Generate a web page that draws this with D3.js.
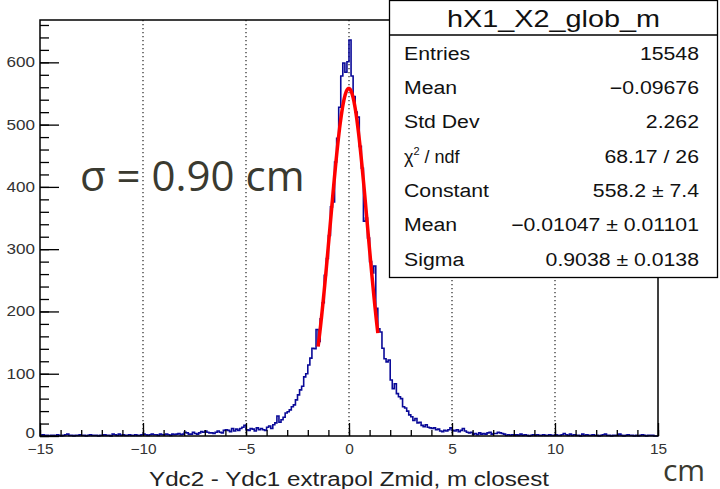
<!DOCTYPE html>
<html>
<head>
<meta charset="utf-8">
<script src="https://cdn.jsdelivr.net/npm/d3@7.9.0/dist/d3.min.js"></script>
<style>
  body { margin: 0; background: #fff; }
  svg { display: block; }
</style>
</head>
<body>
<div id="chart"></div>
<script>
// histogram: 300 bins of 0.1 cm from -15 to 15
const binLow = -15;
const binWidth = 0.1;
const counts = [
  1,2,1,1,0,1,1,0,2,1,   0,1,2,3,1,1,0,1,1,2,
  1,1,0,1,2,1,1,1,0,1,   1,2,1,1,0,3,2,1,3,1,
  2,1,1,2,1,1,2,1,1,2,   3,2,1,2,3,2,2,1,3,2,
  2,3,2,1,3,2,3,4,2,3,   6,5,3,3,6,4,3,5,7,6,
  8,6,5,5,4,6,8,6,5,9,   10,9,7,12,8,11,9,12,14,17,
  10,9,12,11,8,13,10,12,10,9,   14,16,12,18,21,32,22,26,30,37,
  39,42,47,50,58,66,74,80,95,100,   114,125,141,140,171,
  152,188,214,258,285,   322,368,376,440,478,
  528,578,599,584,601,   636,578,545,520,512,
  465,430,345,350,318,   280,262,273,205,172,
  167,141,124,119,122,   90,76,84,68,63,
  60,47,45,40,34,   31,25,28,21,22,
  17,15,18,14,13,   12,13,10,11,8,
  7,9,8,10,13,   9,8,10,7,9,
  12,8,6,5,6,   3,4,2,5,3,4,3,5,6,3,
  4,4,6,5,4,3,1,2,1,2,   1,2,1,3,1,2,1,0,1,2,
  1,2,1,1,2,1,1,2,1,1,   2,1,1,2,4,2,1,3,1,2,
  1,1,0,3,1,2,1,1,2,1,   1,0,1,2,3,1,1,0,1,1,
  1,3,1,0,1,2,1,1,0,1,   0,1,2,1,0,1,1,1,0,0
];

// gaussian fit result (from the stats box) and its range
const fitConst = 558.2;
const fitMean = -0.01047;
const fitSigma = 0.9038;
const fitRange = [-1.5, 1.4];

const xTicks = [-15, -10, -5, 0, 5, 10, 15];
const yTicks = [0, 100, 200, 300, 400, 500, 600];
const gridX = [-10, -5, 0, 5, 10];

const statsTitle = "hX1_X2_glob_m";
const statsLabels = ["Entries", "Mean", "Std Dev", "chi2", "Constant", "Mean", "Sigma"];
const statsValues = ["15548", "\u22120.09676", "2.262", "68.17 / 26", "558.2 \u00b1 7.4",
                     "\u22120.01047 \u00b1 0.01101", "0.9038 \u00b1 0.0138"];

const width = 720;
const height = 489;
const plot = { left: 40, right: 658, top: 20, bottom: 436 };
const rootFont = "'Liberation Sans', Arial, sans-serif";

// the ROOT texts in the picture are a bit wider than the font, stretch them
function stretch(sel, k) {
    sel.each(function () {
        const w = this.getComputedTextLength();
        d3.select(this).attr("textLength", w * k).attr("lengthAdjust", "spacingAndGlyphs");
    });
}

const svg = d3.select("#chart")
    .append("svg")
    .attr("width", width)
    .attr("height", height)
    .style("font-family", rootFont);

svg.append("rect").attr("width", width).attr("height", height).attr("fill", "#fff");

// scales
const x = d3.scaleLinear().domain([-15, 15]).range([plot.left, plot.right]);
const y = d3.scaleLinear().domain([0, 668]).range([plot.bottom, plot.top]);

// dotted vertical grid
svg.append("g")
    .selectAll("line")
    .data(gridX)
    .join("line")
    .attr("x1", d => x(d)).attr("x2", d => x(d))
    .attr("y1", plot.top).attr("y2", plot.bottom)
    .attr("stroke", "#222")
    .attr("stroke-width", 1.2)
    .attr("stroke-dasharray", "1.3,2.7");

// histogram outline as steps
const steps = counts.map((c, i) => [binLow + i * binWidth, c]);
steps.push([binLow + counts.length * binWidth, counts[counts.length - 1]]);

const stepLine = d3.line()
    .x(d => x(d[0]))
    .y(d => y(d[1]))
    .curve(d3.curveStepAfter);

svg.append("path")
    .datum(steps)
    .attr("fill", "none")
    .attr("stroke", "#0a0a98")
    .attr("stroke-width", 1.6)
    .attr("d", stepLine);

// fitted gaussian
const fitPts = d3.range(fitRange[0], fitRange[1] + 1e-9, 0.029).map(v =>
    [v, fitConst * Math.exp(-0.5 * ((v - fitMean) / fitSigma) ** 2)]);

svg.append("path")
    .datum(fitPts)
    .attr("fill", "none")
    .attr("stroke", "#ff0000")
    .attr("stroke-width", 3.5)
    .attr("stroke-linejoin", "round")
    .attr("d", d3.line().x(d => x(d[0])).y(d => y(d[1])));

// axes, ticks pointing into the frame
const yMajor = d3.axisLeft(y).tickValues(yTicks).tickSize(-19).tickPadding(5).tickFormat(d3.format("d"));
const yMinor = d3.axisLeft(y).tickValues(d3.range(0, 661, 20)).tickSize(-9).tickFormat("");

const yg = svg.append("g").attr("transform", `translate(${plot.left},0)`);
yg.append("g").call(yMinor);
const yMajorG = yg.append("g").call(yMajor);

const xMajor = d3.axisBottom(x).tickValues(xTicks).tickSize(-13).tickPadding(8);
const xMinor = d3.axisBottom(x).tickValues(d3.range(-15, 15.01, 1)).tickSize(-6).tickFormat("");

const xg = svg.append("g").attr("transform", `translate(0,${plot.bottom})`);
xg.append("g").call(xMinor);
const xMajorG = xg.append("g").call(xMajor);

svg.selectAll(".domain").remove();
svg.selectAll(".tick line").attr("stroke", "#000").attr("stroke-width", 1.3);
svg.selectAll(".tick text")
    .attr("fill", "#333")
    .style("font-size", "14px")
    .style("font-family", rootFont);
yMajorG.selectAll(".tick text").call(stretch, 1.22);
xMajorG.selectAll(".tick text").call(stretch, 1.1);
// keep the y "0" label clear of the x "-15" label
yMajorG.selectAll(".tick text").filter(d => d === 0).attr("dy", "0.1em");

// frame
svg.append("rect")
    .attr("x", plot.left).attr("y", plot.top)
    .attr("width", plot.right - plot.left)
    .attr("height", plot.bottom - plot.top)
    .attr("fill", "none")
    .attr("stroke", "#000")
    .attr("stroke-width", 1.5);

// axis title
svg.append("text")
    .attr("x", (plot.left + plot.right) / 2)
    .attr("y", 486)
    .attr("text-anchor", "middle")
    .attr("fill", "#222")
    .style("font-size", "20px")
    .attr("textLength", 400)
    .attr("lengthAdjust", "spacingAndGlyphs")
    .text("Ydc2 - Ydc1 extrapol Zmid, m closest");

// stats box
const box = { x: 389.5, y: 0.5, w: 328, h: 277 };
const sg = svg.append("g");
sg.append("rect")
    .attr("x", box.x).attr("y", box.y)
    .attr("width", box.w).attr("height", box.h)
    .attr("fill", "#fff")
    .attr("stroke", "#000")
    .attr("stroke-width", 1.3);
sg.append("line")
    .attr("x1", box.x).attr("x2", box.x + box.w)
    .attr("y1", 35).attr("y2", 35)
    .attr("stroke", "#000")
    .attr("stroke-width", 1.3);
sg.append("text")
    .attr("x", box.x + box.w / 2)
    .attr("y", 27)
    .attr("text-anchor", "middle")
    .style("font-size", "24px")
    .attr("fill", "#111")
    .text(statsTitle)
    .call(stretch, 1.2);

const rowY = d3.scaleLinear().domain([0, 6]).range([59.5, 265.5]);

statsLabels.forEach((lab, i) => {
    const t = sg.append("text")
        .attr("x", 404)
        .attr("y", rowY(i))
        .style("font-size", "18px")
        .attr("fill", "#111");
    if (lab === "chi2") {
        t.append("tspan").text("\u03c7");
        t.append("tspan").attr("dy", -8).style("font-size", "11px").text("2");
        t.append("tspan").attr("dy", 8).text(" / ndf");
    } else {
        t.text(lab).call(stretch, 1.18);
    }
    sg.append("text")
        .attr("x", 699)
        .attr("y", rowY(i))
        .attr("text-anchor", "end")
        .style("font-size", "18px")
        .attr("fill", "#111")
        .text(statsValues[i])
        .call(stretch, 1.18);
});

// slide annotations
svg.append("text")
    .attr("x", 80)
    .attr("y", 191)
    .style("font-family", "'Open Sans', sans-serif")
    .style("font-size", "42px")
    .attr("fill", "#3a3a30")
    .text("\u03c3 = 0.90 cm");

svg.append("text")
    .attr("x", 663)
    .attr("y", 481)
    .style("font-family", "'Open Sans', sans-serif")
    .style("font-size", "30px")
    .attr("fill", "#3a3a30")
    .text("cm");
</script>
</body>
</html>
